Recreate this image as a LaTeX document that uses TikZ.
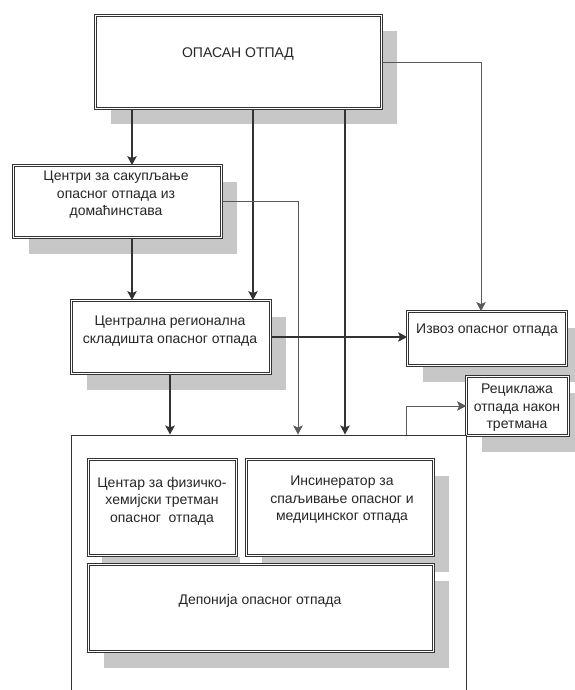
\documentclass[tikz,border=0pt]{standalone}
\usepackage{fontspec}
\setmainfont{Liberation Sans}
\usetikzlibrary{arrows.meta,shadows}
\tikzset{
  box/.style={rectangle, draw=black!80, double=white, double distance=1.5pt,
    line width=0.8pt, fill=white, inner sep=0pt},
  shbox/.style={box, drop shadow={shadow xshift=15pt, shadow yshift=-16pt,
    fill=black!22, opacity=1}},
  txt/.style={align=center, inner sep=0pt, text=black!85,
    font=\fontsize{14}{17.5}\selectfont},
  thickarr/.style={draw=black!80, line width=1.3pt,
    -{Stealth[length=9pt,width=9.5pt,inset=2pt]}},
  thinarr/.style={draw=black!65, line width=0.8pt,
    -{Stealth[length=9pt,width=9.5pt,inset=2pt]}},
}
\begin{document}
\begin{tikzpicture}[x=1pt,y=-1pt]
\useasboundingbox[fill=white] (0,0) rectangle (574,690);

% boxes
\node[shbox, minimum width=286pt, minimum height=93pt] (top) at (238.5,62) {};
\node[shbox, minimum width=208pt, minimum height=72pt] (centri) at (117.5,201.5) {};
\node[shbox, minimum width=199pt, minimum height=73pt] (centralna) at (171,337) {};
\node[shbox, minimum width=159pt, minimum height=54pt] (izvoz) at (487,338.5) {};
\node[shbox, minimum width=102pt, minimum height=59pt] (recik) at (517.5,406) {};
\node[rectangle, draw=black!80, line width=1pt, fill=white,
      minimum width=395pt, minimum height=285pt] (big) at (268.5,577.5) {};
% shadow strip under the first inner box
\fill[black!22] (102,557) rectangle (240,563);
\node[shbox, minimum width=187pt, minimum height=96pt] (insin) at (340,507.5) {};
\node[box, minimum width=148pt, minimum height=96pt] (centar) at (162.5,507.5) {};
\node[shbox, minimum width=345pt, minimum height=87pt] (depon) at (261,608) {};

% texts
\node[txt] (ttop) at (238,54) {ОПАСАН ОТПАД};
\node[txt] (tcentri) at (116,195) {Центри за сакупљање\\опасног отпада из\\домаћинстава};
\node[txt] (tcentralna) at (170,331) {Централна регионална\\складишта опасног отпада};
\node[txt] (tizvoz) at (487,330) {Извоз опасног отпада};
\node[txt] (trecik) at (517,408) {Рециклажа\\отпада након\\третмана};
\node[txt] (tcentar) at (162,501) {Центар за физичко-\\хемијски третман\\опасног\ \ отпада};
\node[txt] (tinsin) at (342,500) {Инсинератор за\\спаљивање опасног и\\медицинског отпада};
\node[txt] (tdepon) at (260,601) {Депонија опасног отпада};

% helper coordinates
\coordinate (x132) at (132,0);
\coordinate (x170) at (170,0);
\coordinate (x253) at (253,0);
\coordinate (x298) at (298,0);
\coordinate (x345) at (345,0);
\coordinate (x406) at (406,0);
\coordinate (x481) at (481,0);

% connectors
\draw[thickarr] (top.south -| x132) -- (centri.north -| x132);
\draw[thickarr] (centri.south -| x132) -- (centralna.north -| x132);
\draw[thickarr] (top.south -| x253) -- (centralna.north -| x253);
\draw[thickarr] (top.south -| x345) -- (big.north -| x345);
\draw[thickarr] (centralna.south -| x170) -- (big.north -| x170);
\draw[thinarr] (centri.east) -| (big.north -| x298);
\draw[thinarr] (top.east) -| (izvoz.north -| x481);
\draw[thickarr] (centralna.east) -- (centralna.east -| izvoz.west);
\draw[thinarr] (big.north -| x406) |- (recik.west);
\end{tikzpicture}
\end{document}
